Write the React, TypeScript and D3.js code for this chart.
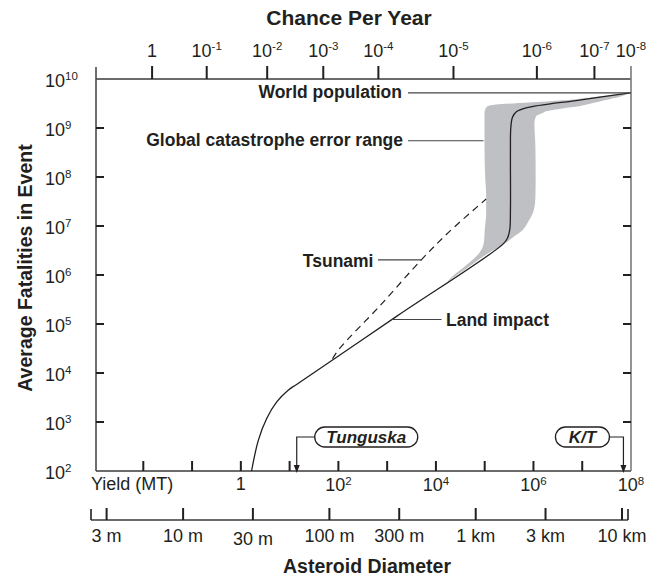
import React from "react";
import * as d3 from "d3";

// ---------- data ----------
// Chance-per-year scale: exponent labels and the yield (log10 MT) they sit at
const chanceExponents = [0, -1, -2, -3, -4, -5, -6, -7, -8];
const chanceLogYield = [-1.82, -0.7, 0.54, 1.69, 2.82, 4.36, 6.07, 7.25, 8.0];

// Yield (MT) axis
const yieldTickExp = [-2, -1, 0, 1, 2, 3, 4, 5, 6, 7, 8];
const yieldLabelExp = [0, 2, 4, 6, 8];

// Fatalities axis
const fatalityExp = [2, 3, 4, 5, 6, 7, 8, 9, 10];

// Asteroid diameter axis (metres) and labels
const diameters = [3, 10, 30, 100, 300, 1000, 3000, 10000];
const diameterLabels = ["3 m", "10 m", "30 m", "100 m", "300 m", "1 km", "3 km", "10 km"];
const yieldPerCubicMetre = Math.pow(10, -4.184); // MT per m^3 of diameter

// Land impact curve (log10 yield MT, log10 fatalities)
const landLogYield = [0.22, 0.36, 0.53, 0.735, 0.97, 1.15, 3.2, 5.38, 5.47, 5.515, 5.528, 5.528, 5.535, 5.57, 5.65, 5.85, 6.94, 7.985];
const landLogFatal = [2.0, 2.63, 3.07, 3.41, 3.65, 3.77, 5.16, 6.635, 6.76, 6.93, 7.3, 8.5, 9.0, 9.22, 9.33, 9.41, 9.57, 9.716];

// Tsunami curve (dashed)
const tsunamiLogYield = [1.85, 2.0, 2.85, 3.7, 4.28, 5.03];
const tsunamiLogFatal = [4.24, 4.47, 5.37, 6.31, 6.89, 7.55];

// Global catastrophe error range band: left/right edge (log10 yield) per log10 fatalities
const bandLogFatal = [5.88, 6.0, 6.2, 6.45, 6.65, 6.8, 6.92, 7.1, 7.26, 7.45, 7.6, 8.0, 8.6, 9.1, 9.24, 9.31, 9.34, 9.4, 9.444, 9.479, 9.52, 9.566, 9.64, 9.716];
const bandLeft = [4.24, 4.37, 4.62, 4.89, 4.98, 4.995, 5.0, 5.02, 5.03, 5.03, 5.031, 5.01, 4.996, 4.996, 4.996, 4.996, 5.0, 5.02, 5.063, 5.235, 5.9, 6.6, 7.3, 7.985];
const bandRight = [4.26, 4.43, 4.72, 5.08, 5.42, 5.62, 5.78, 5.9, 5.985, 6.03, 6.04, 6.045, 6.04, 6.02, 6.055, 6.2, 6.26, 6.6, 6.94, 7.09, 7.27, 7.46, 7.77, 7.985];

const worldPopulation = 5.2e9;
const tunguskaYield = 14; // MT
const ktYield = 7e7; // MT
const landLabelLogYield = 3.1;
const tsunamiLabelIndex = 3;
const globalLabelLogFatal = 8.74;

const FONT = "'Liberation Sans', Arial, Helvetica, sans-serif";
const INK = "#231f20";

export default function App() {
  const W = 660, H = 577;
  const x = d3.scaleLog().domain([Math.pow(10, -2.97), 1e8]).range([96, 631]);
  const y = d3.scaleLog().domain([1e2, 1e10]).range([471, 79]);
  const X = (l: number) => x(Math.pow(10, l));
  const Y = (l: number) => y(Math.pow(10, l));
  const xDiam = (d: number) => x(yieldPerCubicMetre * d * d * d);

  const [left, right] = x.range();
  const [bottom, top] = y.range();

  const lineGen = d3
    .line<[number, number]>()
    .x((d) => X(d[0]))
    .y((d) => Y(d[1]))
    .curve(d3.curveCatmullRom.alpha(0.5));

  const landPts = landLogYield.map((v, i) => [v, landLogFatal[i]] as [number, number]);
  const tsuPts = tsunamiLogYield.map((v, i) => [v, tsunamiLogFatal[i]] as [number, number]);

  const bandGen = d3
    .area<number>()
    .y((_, i) => Y(bandLogFatal[i]))
    .x0((_, i) => X(bandLeft[i]))
    .x1((_, i) => X(bandRight[i]))
    .curve(d3.curveMonotoneY);

  const landLabelY = Y(3.65 + (landLabelLogYield - 0.97) * 0.677);
  const tsuX = X(tsunamiLogYield[tsunamiLabelIndex]);
  const tsuY = Y(tsunamiLogFatal[tsunamiLabelIndex]);
  const popY = y(worldPopulation);
  const globalY = Y(globalLabelLogFatal);
  const globalX = X(4.996);

  const tX = x(tunguskaYield);
  const kX = x(ktYield);
  const boxY = 427, boxH = 20;
  const diamAxisY = 520;

  const sup = (base: string, exp: string, px: number, py: number, anchor: string) => (
    <text x={px} y={py} textAnchor={anchor} fontSize={18} fill={INK} fontFamily={FONT}>
      <tspan>{base}</tspan>
      {exp !== "" && (
        <tspan dy={-6.5} fontSize={11.5}>
          {exp}
        </tspan>
      )}
    </text>
  );

  return (
    <svg width={W} height={H} style={{ position: "absolute", left: 0, top: 0, background: "#fff" }} fontFamily={FONT}>
      <rect width={W} height={H} fill="#fff" />

      {/* band */}
      <path d={bandGen(bandLogFatal) || ""} fill="#bfc0c3" stroke="none" />

      {/* frame */}
      <line x1={left} x2={right} y1={top} y2={top} stroke="#3a3a3a" strokeWidth={1.6} />
      <line x1={left} x2={right} y1={bottom} y2={bottom} stroke="#3a3a3a" strokeWidth={1.6} />
      <line x1={left} x2={left} y1={top - 12} y2={bottom} stroke="#4a4a4a" strokeWidth={1.6} />
      <line x1={right} x2={right} y1={top - 13} y2={bottom} stroke="#7a7a7a" strokeWidth={1.6} />

      {/* top chance ticks */}
      {chanceLogYield.map((l, i) => (
        <g key={"c" + i}>
          {i < chanceLogYield.length - 1 && (
            <line x1={X(l)} x2={X(l)} y1={top - 13} y2={top} stroke={INK} strokeWidth={2} />
          )}
          {chanceExponents[i] === 0
            ? sup("1", "", X(l), 56.5, "middle")
            : sup("10", String(chanceExponents[i]), X(l), 56.5, "middle")}
        </g>
      ))}

      {/* fatality ticks */}
      {fatalityExp.map((e) => (
        <g key={"f" + e}>
          {e > 2 && e < 10 && (
            <>
              <line x1={left} x2={left + 8} y1={Y(e)} y2={Y(e)} stroke={INK} strokeWidth={2} />
              <line x1={right - 8} x2={right} y1={Y(e)} y2={Y(e)} stroke={INK} strokeWidth={2} />
            </>
          )}
          {sup("10", String(e), 45, Y(e) + 7.5, "start")}
        </g>
      ))}

      {/* yield ticks */}
      {yieldTickExp.map((e) =>
        e < 8 ? (
          <line key={"y" + e} x1={X(e)} x2={X(e)} y1={bottom - 10} y2={bottom} stroke={INK} strokeWidth={2} />
        ) : null
      )}
      <text x={91} y={490} fontSize={18} fill={INK}>
        Yield (MT)
      </text>
      {yieldLabelExp.map((e) => (
        <g key={"yl" + e}>{e === 0 ? sup("1", "", X(e), 490, "middle") : sup("10", String(e), X(e), 491, "middle")}</g>
      ))}

      {/* diameter axis */}
      <line x1={left - 5} x2={right - 3} y1={diamAxisY} y2={diamAxisY} stroke="#3a3a3a" strokeWidth={1.6} />
      <line x1={left - 5} x2={left - 5} y1={diamAxisY - 11} y2={diamAxisY} stroke={INK} strokeWidth={1.6} />
      <line x1={right - 3} x2={right - 3} y1={diamAxisY - 11} y2={diamAxisY} stroke={INK} strokeWidth={1.6} />
      {diameters.map((d, i) => (
        <g key={"d" + d}>
          <line x1={xDiam(d)} x2={xDiam(d)} y1={diamAxisY - 12} y2={diamAxisY} stroke={INK} strokeWidth={2} />
          <text x={xDiam(d)} y={i === 2 ? 545 : 542} textAnchor="middle" fontSize={18} fill={INK}>
            {diameterLabels[i]}
          </text>
        </g>
      ))}

      {/* curves */}
      <path d={lineGen(tsuPts) || ""} fill="none" stroke={INK} strokeWidth={1.2} strokeDasharray="7,5" strokeDashoffset={-3} />
      <path d={lineGen(landPts) || ""} fill="none" stroke={INK} strokeWidth={1.3} />

      {/* annotations */}
      <text x={402} y={popY + 5} textAnchor="end" fontSize={17.5} fontWeight="bold" fill={INK}>
        World population
      </text>
      <line x1={408} x2={right} y1={popY} y2={popY} stroke="#444" strokeWidth={1.2} />

      <text x={403} y={globalY + 5} textAnchor="end" fontSize={17.5} fontWeight="bold" fill={INK}>
        Global catastrophe error range
      </text>
      <line x1={408} x2={globalX - 1} y1={globalY} y2={globalY} stroke="#444" strokeWidth={1.2} />

      <text x={373.5} y={tsuY + 7.5} textAnchor="end" fontSize={17.5} fontWeight="bold" fill={INK}>
        Tsunami
      </text>
      <line x1={378} x2={tsuX} y1={tsuY} y2={tsuY} stroke="#444" strokeWidth={1.2} />

      <line x1={X(landLabelLogYield)} x2={441.5} y1={landLabelY} y2={landLabelY} stroke="#444" strokeWidth={1.2} />
      <text x={446} y={landLabelY + 7} fontSize={17.5} fontWeight="bold" fill={INK}>
        Land impact
      </text>

      {/* Tunguska */}
      <rect x={tX + 18} y={boxY} width={103} height={boxH} rx={10} ry={10} fill="#fff" stroke={INK} strokeWidth={1.3} />
      <text x={tX + 18 + 51.5} y={boxY + 15.5} textAnchor="middle" fontSize={17} fontWeight="bold" fontStyle="italic" fill={INK}>
        Tunguska
      </text>
      <polyline points={`${tX + 18},${boxY + boxH / 2} ${tX},${boxY + boxH / 2} ${tX},${bottom - 6}`} fill="none" stroke={INK} strokeWidth={1.2} />
      <path d={`M${tX - 3},${bottom - 6}L${tX + 3},${bottom - 6}L${tX},${bottom + 2}Z`} fill={INK} />

      {/* K/T */}
      <rect x={kX - 14 - 54} y={boxY} width={54} height={boxH} rx={10} ry={10} fill="#fff" stroke={INK} strokeWidth={1.3} />
      <text x={kX - 14 - 27} y={boxY + 15.5} textAnchor="middle" fontSize={17} fontWeight="bold" fontStyle="italic" fill={INK}>
        K/T
      </text>
      <polyline points={`${kX - 14},${boxY + boxH / 2} ${kX},${boxY + boxH / 2} ${kX},${bottom - 6}`} fill="none" stroke={INK} strokeWidth={1.2} />
      <path d={`M${kX - 3},${bottom - 6}L${kX + 3},${bottom - 6}L${kX},${bottom + 2}Z`} fill={INK} />

      {/* titles */}
      <text x={349} y={25} textAnchor="middle" fontSize={21} fontWeight="bold" fill={INK}>
        Chance Per Year
      </text>
      <text x={367} y={573} textAnchor="middle" fontSize={19.5} fontWeight="bold" fill={INK}>
        Asteroid Diameter
      </text>
      <text transform="translate(32,268) rotate(-90)" textAnchor="middle" fontSize={19.5} fontWeight="bold" fill={INK}>
        Average Fatalities in Event
      </text>
    </svg>
  );
}
